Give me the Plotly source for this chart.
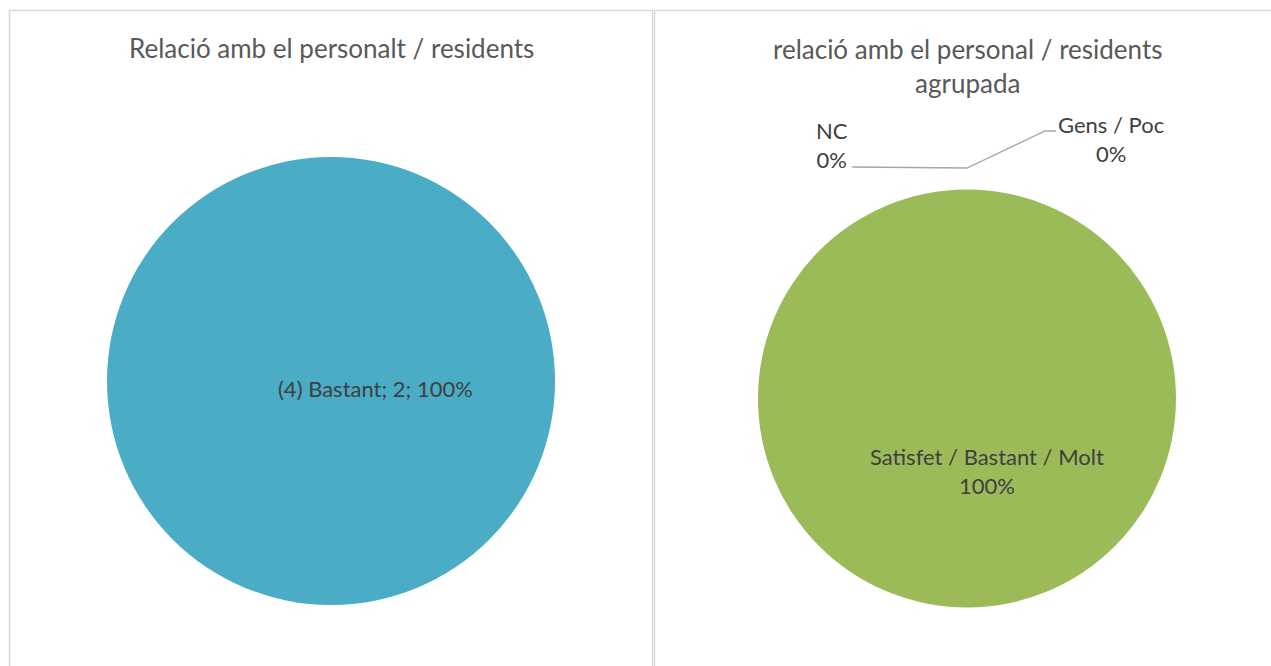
import plotly.graph_objects as go

W, H = 1271, 666

# Data
left_title = "Relació amb el personalt / residents"
left_labels = ["(4) Bastant"]
left_values = [2]

right_title = "relació amb el personal / residents<br>agrupada"
right_labels = ["Satisfet / Bastant / Molt", "Gens / Poc", "NC"]
right_values = [2, 0, 0]

left_color = "#4BACC6"
right_colors = ["#9BBB59", "#C0504D", "#8064A2"]

FONT = "Lato"
TXT = "#404040"
TITLE = "#595959"
TSIZE = 26
LSIZE = 22

def px(x):
    return x / W

def py(y):
    return 1 - y / H

def domain(cx, cy, r):
    return dict(x=[px(cx - r), px(cx + r)], y=[py(cy + r), py(cy - r)])

fig = go.Figure()
fig.add_trace(go.Pie(
    labels=left_labels, values=left_values, domain=domain(331, 381, 224),
    marker=dict(colors=[left_color]), textinfo="none", hoverinfo="label+value+percent",
    sort=False, direction="clockwise", showlegend=False,
))
fig.add_trace(go.Pie(
    labels=right_labels, values=right_values, domain=domain(967, 398.5, 209),
    marker=dict(colors=right_colors), textinfo="none", hoverinfo="label+value+percent",
    sort=False, direction="clockwise", showlegend=False,
))

tot_l = sum(left_values)
tot_r = sum(right_values)
ann = []
ann.append(dict(x=px(331), y=py(48), text=left_title, showarrow=False,
                font=dict(family=FONT, size=TSIZE, color=TITLE), xanchor="center", yanchor="middle"))
ann.append(dict(x=px(967), y=py(65.5), text=right_title, showarrow=False,
                font=dict(family=FONT, size=TSIZE, color=TITLE), xanchor="center", yanchor="middle"))
ann.append(dict(x=px(375), y=py(388),
                text=f"{left_labels[0]}; {left_values[0]}; {round(100*left_values[0]/tot_l)}%",
                showarrow=False, font=dict(family=FONT, size=LSIZE, color=TXT),
                xanchor="center", yanchor="middle"))
pcts = [round(100 * v / tot_r) for v in right_values]
ann.append(dict(x=px(987), y=py(471.5), text=f"{right_labels[0]}<br>{pcts[0]}%",
                showarrow=False, font=dict(family=FONT, size=LSIZE, color=TXT),
                xanchor="center", yanchor="middle"))
ann.append(dict(x=px(1111), y=py(139), text=f"{right_labels[1]}<br>{pcts[1]}%",
                showarrow=False, font=dict(family=FONT, size=LSIZE, color=TXT),
                xanchor="center", yanchor="middle"))
ann.append(dict(x=px(832), y=py(145), text=f"{right_labels[2]}<br>{pcts[2]}%",
                showarrow=False, font=dict(family=FONT, size=LSIZE, color=TXT),
                xanchor="center", yanchor="middle"))

shapes = []
border = dict(color="#D9D9D9", width=1.5)
# left box
shapes.append(dict(type="path", xref="paper", yref="paper",
                   path=f"M {px(9.5)} {py(700)} L {px(9.5)} {py(10.5)} L {px(652.5)} {py(10.5)} L {px(652.5)} {py(700)}",
                   line=border))
shapes.append(dict(type="path", xref="paper", yref="paper",
                   path=f"M {px(654.5)} {py(700)} L {px(654.5)} {py(10.5)} L {px(1290)} {py(10.5)}",
                   line=border))
# leader line
shapes.append(dict(type="path", xref="paper", yref="paper",
                   path=f"M {px(852)} {py(167)} L {px(967)} {py(168)} L {px(1045)} {py(131)} L {px(1056)} {py(131)}",
                   line=dict(color="#A6A6A6", width=1.3)))

fig.update_layout(
    width=W, height=H, margin=dict(l=0, r=0, t=0, b=0),
    paper_bgcolor="white", plot_bgcolor="white",
    annotations=ann, shapes=shapes, showlegend=False,
)
fig.write_html("out.html")
